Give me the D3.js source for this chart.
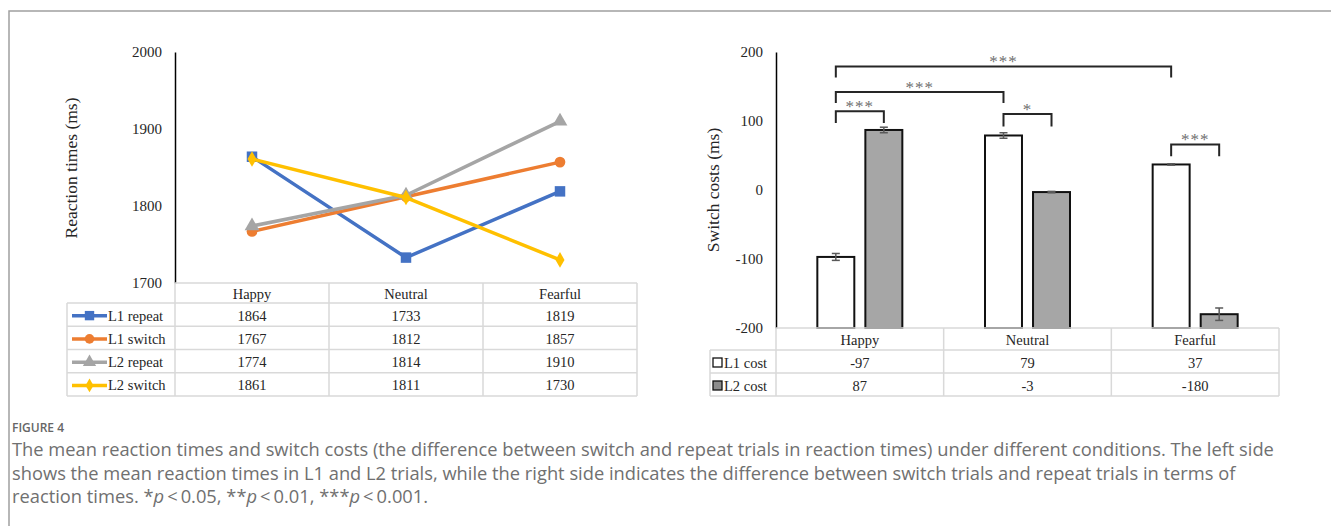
<!DOCTYPE html>
<html>
<head>
<meta charset="utf-8">
<script src="https://cdn.jsdelivr.net/npm/d3@7"></script>
<style>
    body { margin: 0; background: #fff; }
    svg { display: block; }
</style>
</head>
<body>
<svg id="fig" width="1331" height="526"></svg>
<script>
// ---- data ----
const conditions = ["Happy", "Neutral", "Fearful"];

const rtSeries = ["L1 repeat", "L1 switch", "L2 repeat", "L2 switch"];
const l1Repeat = [1864, 1733, 1819];
const l1Switch = [1767, 1812, 1857];
const l2Repeat = [1774, 1814, 1910];
const l2Switch = [1861, 1811, 1730];
const rtColors = ["#4472C4", "#ED7D31", "#A5A5A5", "#FFC000"];
const rtMarkers = ["square", "circle", "triangle", "diamond"];
const rtTicks = [1700, 1800, 1900, 2000];

const costSeries = ["L1 cost", "L2 cost"];
const l1Cost = [-97, 79, 37];
const l2Cost = [87, -3, -180];
const l1CostErr = [5, 4, 1];
const l2CostErr = [4, 1, 9];
const costFills = ["#ffffff", "#a6a6a6"];
const costTicks = [-200, -100, 0, 100, 200];

// significance brackets (top and foot heights in ms)
const brackets = [
    { from: ["Happy", "L1 cost"], to: ["Fearful", "L1 cost"], top: 179, foot: 163, label: "***" },
    { from: ["Happy", "L1 cost"], to: ["Neutral", "L1 cost"], top: 142, foot: 126, label: "***" },
    { from: ["Happy", "L1 cost"], to: ["Happy", "L2 cost"], top: 114, foot: 97, label: "***" },
    { from: ["Neutral", "L1 cost"], to: ["Neutral", "L2 cost"], top: 110, foot: 92, label: "*" },
    { from: ["Fearful", "L1 cost"], to: ["Fearful", "L2 cost"], top: 66, foot: 49, label: "***" }
];

const captionTitle = "FIGURE 4";
const captionLines = [
    "The mean reaction times and switch costs (the difference between switch and repeat trials in reaction times) under different conditions. The left side",
    "shows the mean reaction times in L1 and L2 trials, while the right side indicates the difference between switch trials and repeat trials in terms of",
    "reaction times. *p\u2009<\u20090.05, **p\u2009<\u20090.01, ***p\u2009<\u20090.001."
];

const serif = "'Liberation Serif', 'Times New Roman', serif";
const textCol = "#262626";
const gridCol = "#d9d9d9";

const svg = d3.select("#fig");

// outer frame
svg.append("path")
    .attr("d", "M9,526 V11 H1331")
    .attr("fill", "none")
    .attr("stroke", "#a0a0a0")
    .attr("stroke-width", 1.5);

// ================= left chart: reaction times =================
const rtData = [l1Repeat, l1Switch, l2Repeat, l2Switch];

const xL = d3.scaleBand().domain(conditions).range([175, 637]);
const yL = d3.scaleLinear().domain([1700, 2000]).range([283, 52]);

const axL = svg.append("g")
    .attr("transform", "translate(175,0)")
    .call(d3.axisLeft(yL).tickValues(rtTicks).tickSize(0).tickPadding(13).tickFormat(d3.format("d")));
axL.select(".domain").attr("stroke", "#000").attr("stroke-width", 1.5);
axL.selectAll("text").style("font-family", serif).style("font-size", "15px").attr("fill", textCol);

svg.append("text")
    .attr("transform", "translate(73,168) rotate(-90)")
    .attr("text-anchor", "middle")
    .attr("dominant-baseline", "middle")
    .style("font-family", serif)
    .style("font-size", "17.5px")
    .attr("fill", textCol)
    .text("Reaction times (ms)");

const symbolType = {
    square: d3.symbolSquare,
    circle: d3.symbolCircle,
    triangle: d3.symbolTriangle,
    diamond: d3.symbolDiamond
};
const symbolSize = { square: 110, circle: 90, triangle: 95, diamond: 70 };

const lineL = d3.line()
    .x((d, i) => xL(conditions[i]) + xL.bandwidth() / 2)
    .y(d => yL(d));

rtData.forEach((vals, s) => {
    const g = svg.append("g");
    g.append("path")
        .attr("d", lineL(vals))
        .attr("fill", "none")
        .attr("stroke", rtColors[s])
        .attr("stroke-width", 3.5)
        .attr("stroke-linejoin", "round");
    g.selectAll("path.mk")
        .data(vals)
        .enter()
        .append("path")
        .attr("class", "mk")
        .attr("d", d3.symbol().type(symbolType[rtMarkers[s]]).size(symbolSize[rtMarkers[s]]))
        .attr("transform", (d, i) => `translate(${xL(conditions[i]) + xL.bandwidth() / 2},${yL(d)})`)
        .attr("fill", rtColors[s]);
});

const txtStyle = (sel) => sel.style("font-family", serif).style("font-size", "14.5px").attr("fill", textCol)
    .attr("dominant-baseline", "central");

// data table under a chart
function drawTable(x, colStart, colEnd, headTop, headH, rowH, rows, cells, legendFn) {
    const t = svg.append("g");
    const bottom = headTop + headH + rowH * rows.length;
    const lineAttr = sel => sel.attr("stroke", gridCol).attr("stroke-width", 1.5);
    lineAttr(t.append("line").attr("x1", colStart).attr("x2", colEnd).attr("y1", headTop).attr("y2", headTop));
    for (let r = 0; r <= rows.length; r++) {
        const y = headTop + headH + r * rowH;
        lineAttr(t.append("line").attr("x1", x).attr("x2", colEnd).attr("y1", y).attr("y2", y));
    }
    lineAttr(t.append("line").attr("x1", x).attr("x2", x).attr("y1", headTop + headH).attr("y2", bottom));
    const xs = cells.xScale;
    conditions.forEach(c => {
        lineAttr(t.append("line").attr("x1", xs(c)).attr("x2", xs(c)).attr("y1", headTop).attr("y2", bottom));
    });
    lineAttr(t.append("line").attr("x1", colEnd).attr("x2", colEnd).attr("y1", headTop).attr("y2", bottom));

    conditions.forEach(c => {
        txtStyle(t.append("text")
            .attr("x", xs(c) + xs.bandwidth() / 2)
            .attr("y", headTop + headH / 2 + 1)
            .attr("text-anchor", "middle")
            .text(c));
    });
    rows.forEach((name, r) => {
        const cy = headTop + headH + r * rowH + rowH / 2 + 1;
        legendFn(t, r, cy);
        cells.values[r].forEach((v, i) => {
            txtStyle(t.append("text")
                .attr("x", xs(conditions[i]) + xs.bandwidth() / 2)
                .attr("y", cy)
                .attr("text-anchor", "middle")
                .text(v));
        });
    });
}

drawTable(67, 175, 637, 283, 20, 23.25, rtSeries, { xScale: xL, values: rtData }, (t, r, cy) => {
    t.append("line")
        .attr("x1", 72).attr("x2", 107).attr("y1", cy).attr("y2", cy)
        .attr("stroke", rtColors[r]).attr("stroke-width", 3.5);
    t.append("path")
        .attr("d", d3.symbol().type(symbolType[rtMarkers[r]]).size(symbolSize[rtMarkers[r]] * 0.8))
        .attr("transform", `translate(89.5,${cy})`)
        .attr("fill", rtColors[r]);
    txtStyle(t.append("text").attr("x", 108).attr("y", cy).text(rtSeries[r]));
});

// ================= right chart: switch costs =================
const costData = [l1Cost, l2Cost];
const costErr = [l1CostErr, l2CostErr];

const xR = d3.scaleBand().domain(conditions).range([776, 1279]);
const xR1 = d3.scaleBand().domain(costSeries)
    .range([xR.bandwidth() / 2 - 42.5, xR.bandwidth() / 2 + 42.5])
    .paddingInner(0.23);
const yR = d3.scaleLinear().domain([-200, 200]).range([328, 52]);

const barCenter = (cond, ser) => xR(cond) + xR1(ser) + xR1.bandwidth() / 2;

costData.forEach((vals, s) => {
    svg.append("g")
        .selectAll("rect")
        .data(vals)
        .enter()
        .append("rect")
        .attr("x", (d, i) => xR(conditions[i]) + xR1(costSeries[s]))
        .attr("y", d => yR(d))
        .attr("width", xR1.bandwidth())
        .attr("height", d => yR(-200) - yR(d))
        .attr("fill", costFills[s])
        .attr("stroke", "#111")
        .attr("stroke-width", 2);

    // error bars
    const eg = svg.append("g").attr("stroke", "#595959").attr("stroke-width", 1.5);
    vals.forEach((v, i) => {
        const cx = barCenter(conditions[i], costSeries[s]);
        const e = costErr[s][i];
        eg.append("line").attr("x1", cx).attr("x2", cx).attr("y1", yR(v + e)).attr("y2", yR(v - e));
        eg.append("line").attr("x1", cx - 4).attr("x2", cx + 4).attr("y1", yR(v + e)).attr("y2", yR(v + e));
        eg.append("line").attr("x1", cx - 4).attr("x2", cx + 4).attr("y1", yR(v - e)).attr("y2", yR(v - e));
    });
});

const axR = svg.append("g")
    .attr("transform", "translate(776,0)")
    .call(d3.axisLeft(yR).tickValues(costTicks).tickSize(0).tickPadding(13).tickFormat(d3.format("d")));
axR.select(".domain").attr("stroke", "#000").attr("stroke-width", 1.5);
axR.selectAll("text").style("font-family", serif).style("font-size", "15px").attr("fill", textCol)
    .text(d => d < 0 ? "-" + Math.abs(d) : d);

svg.append("text")
    .attr("transform", "translate(715,190) rotate(-90)")
    .attr("text-anchor", "middle")
    .attr("dominant-baseline", "middle")
    .style("font-family", serif)
    .style("font-size", "17.5px")
    .attr("fill", textCol)
    .text("Switch costs (ms)");

// significance brackets
const bg = svg.append("g");
brackets.forEach(b => {
    const x1 = barCenter(b.from[0], b.from[1]);
    const x2 = barCenter(b.to[0], b.to[1]);
    bg.append("path")
        .attr("d", `M${x1},${yR(b.foot)} V${yR(b.top)} H${x2} V${yR(b.foot)}`)
        .attr("fill", "none")
        .attr("stroke", "#262626")
        .attr("stroke-width", 2);
    bg.append("text")
        .attr("x", (x1 + x2) / 2)
        .attr("y", yR(b.top) + 1)
        .attr("text-anchor", "middle")
        .style("font-family", serif)
        .style("font-size", "17px")
        .style("letter-spacing", "1px")
        .attr("fill", "#707070")
        .text(b.label);
});

drawTable(710, 776, 1279, 328, 22, 23, costSeries, { xScale: xR, values: costData.map(v => v.map(d => d < 0 ? "-" + Math.abs(d) : d)) }, (t, r, cy) => {
    t.append("rect")
        .attr("x", 713).attr("y", cy - 4.5)
        .attr("width", 9).attr("height", 9)
        .attr("fill", r === 0 ? "#fff" : "#8c8c8c")
        .attr("stroke", "#111").attr("stroke-width", 1.3);
    txtStyle(t.append("text").attr("x", 724).attr("y", cy).text(costSeries[r]));
});

// ================= caption =================
const capFont = "'Open Sans', 'Noto Sans', sans-serif";
svg.append("text")
    .attr("x", 12).attr("y", 432)
    .style("font-family", capFont)
    .style("font-size", "12px")
    .style("font-weight", 600)
    .attr("fill", "#666")
    .text(captionTitle);

const capG = svg.append("g")
    .style("font-family", capFont)
    .attr("fill", "#707070");
const capLines = capG.selectAll("text")
    .data(captionLines)
    .enter()
    .append("text")
    .attr("x", 12)
    .attr("y", (d, i) => 456 + i * 23.5)
    .style("font-size", "16px");

capLines.each(function (d) {
    const el = d3.select(this);
    const parts = d.split(/(\*+p)/);
    parts.forEach(p => {
        if (/^\*+p$/.test(p)) {
            el.append("tspan").text(p.slice(0, -1));
            el.append("tspan").style("font-style", "italic").text("p");
        } else {
            el.append("tspan").text(p);
        }
    });
});

// fit the first line to its width in the figure
const w0 = capLines.node().getComputedTextLength();
capLines.style("font-size", (16 * 1263 / w0) + "px");
</script>
</body>
</html>
